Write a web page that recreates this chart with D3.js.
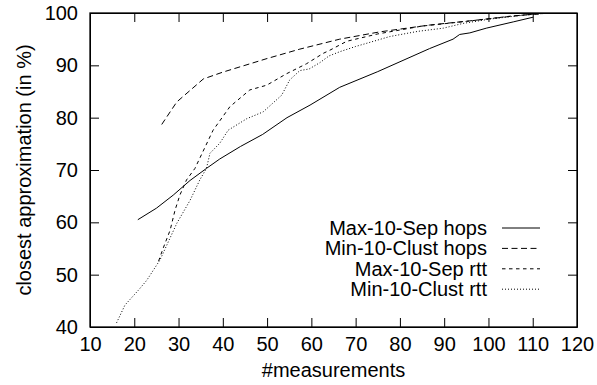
<!DOCTYPE html>
<html>
<head>
<meta charset="utf-8">
<script src="https://cdn.jsdelivr.net/npm/d3@7"></script>
<style>
  body { margin: 0; background: #fff; }
  svg { display: block; font-family: "Liberation Sans", Arial, Helvetica, sans-serif; }
  .axis path, .axis line { stroke: #000; }
  .axis text { font-size: 20px; fill: #000; font-family: "Liberation Sans", Arial, Helvetica, sans-serif; }
</style>
</head>
<body>
<figure id="chart" style="margin:0"></figure>
<script>
// series names, legend order
const seriesNames = ["Max-10-Sep hops", "Min-10-Clust hops", "Max-10-Sep rtt", "Min-10-Clust rtt"];

// Max-10-Sep hops (solid)
const sepHopsX = [20.8, 25, 28.8, 32.6, 36.3, 39.3, 44, 49, 54.5, 59.7, 66.4, 75, 86.7, 92, 93.5, 95.8, 99.5, 105.6, 110.1];
const sepHopsY = [60.5, 62.7, 65.2, 68.0, 70.3, 72.1, 74.5, 76.8, 80.0, 82.4, 85.8, 88.8, 93.2, 95.0, 95.9, 96.2, 97.1, 98.3, 99.2];

// Min-10-Clust hops (long dash)
const clustHopsX = [26.2, 29.6, 35.6, 40, 45, 50, 57.4, 66.4, 75.5, 86.7, 95.8, 107.7, 113.8];
const clustHopsY = [78.7, 83.0, 87.4, 88.7, 90.0, 91.3, 93.1, 95.0, 96.4, 97.7, 98.5, 99.6, 100];

// Max-10-Sep rtt (short dash)
const sepRttX = [25.5, 26.5, 28.1, 29.2, 30.3, 31.8, 33.7, 37.8, 41.6, 46.1, 49.9, 54.4, 56.3, 58.9, 62.7, 64.2, 68, 75, 85, 95, 105, 113.8];
const sepRttY = [52.6, 55.0, 58.5, 62.3, 65.2, 68.1, 70.3, 77.6, 82.1, 85.3, 86.2, 88.4, 89.2, 90.3, 92.3, 92.9, 94.6, 96.0, 97.5, 98.4, 99.4, 100];

// Min-10-Clust rtt (dotted)
const clustRttX = [16, 17.9, 20.9, 22.8, 25.8, 29.6, 32.6, 34.8, 36.3, 37.1, 39.3, 41.2, 45.4, 49.1, 53.3, 55.1, 57.4, 59.5, 61.9, 64, 66.4, 70, 77.7, 84.1, 89.8, 94.2, 100, 107, 113.8];
const clustRttY = [40.8, 44.2, 47.0, 48.9, 52.8, 59.8, 64.2, 68.1, 70.3, 73.2, 75.1, 77.6, 79.8, 81.1, 84.3, 87.2, 89.0, 89.3, 90.5, 91.8, 92.6, 93.6, 95.5, 96.5, 97.1, 98.0, 98.8, 99.5, 100];

const xTicks = [10, 20, 30, 40, 50, 60, 70, 80, 90, 100, 110, 120];
const yTicks = [40, 50, 60, 70, 80, 90, 100];

const width = 597, height = 385;
const margin = { top: 13, right: 20, bottom: 58, left: 90 };
const innerW = width - margin.left - margin.right;
const innerH = height - margin.top - margin.bottom;

const svg = d3.select("figure#chart")
  .append("svg")
  .attr("width", width)
  .attr("height", height);

const g = svg.append("g")
  .attr("transform", "translate(" + margin.left + "," + margin.top + ")");

const x = d3.scaleLinear().domain([10, 120]).range([0, innerW]);
const y = d3.scaleLinear().domain([40, 100]).range([innerH, 0]);

// axes, ticks point inwards (gnuplot style)
g.append("g")
  .attr("class", "axis")
  .attr("transform", "translate(0," + innerH + ")")
  .call(d3.axisBottom(x).tickValues(xTicks).tickSizeInner(-9).tickSizeOuter(0).tickPadding(10));

g.append("g")
  .attr("class", "axis")
  .call(d3.axisLeft(y).tickValues(yTicks).tickSizeInner(-9).tickSizeOuter(0).tickPadding(12));

// mirrored ticks on top and right
g.append("g")
  .attr("class", "axis")
  .call(d3.axisTop(x).tickValues(xTicks).tickSizeInner(-9).tickSizeOuter(0).tickFormat(""));

g.append("g")
  .attr("class", "axis")
  .attr("transform", "translate(" + innerW + ",0)")
  .call(d3.axisRight(y).tickValues(yTicks).tickSizeInner(-9).tickSizeOuter(0).tickFormat(""));

// frame
g.append("rect")
  .attr("width", innerW)
  .attr("height", innerH)
  .attr("fill", "none")
  .attr("stroke", "#000")
  .attr("stroke-width", 1.3);

// axis labels
svg.append("text")
  .attr("x", margin.left + innerW / 2)
  .attr("y", 377)
  .attr("text-anchor", "middle")
  .style("font-size", "20px")
  .text("#measurements");

svg.append("text")
  .attr("transform", "translate(31," + (margin.top + innerH / 2) + ")rotate(-90)")
  .attr("text-anchor", "middle")
  .style("font-size", "20px")
  .text("closest approximation (in %)");

// lines
const dashes = ["none", "6,3.5", "3.5,3.5", "1,2"];
const series = [
  [sepHopsX, sepHopsY],
  [clustHopsX, clustHopsY],
  [sepRttX, sepRttY],
  [clustRttX, clustRttY]
];

g.append("clipPath").attr("id", "clip")
  .append("rect").attr("width", innerW).attr("height", innerH);

const line = d3.line()
  .x(d => x(d[0]))
  .y(d => y(d[1]));

series.forEach((s, i) => {
  const pts = s[0].map((v, j) => [v, s[1][j]]);
  g.append("path")
    .datum(pts)
    .attr("clip-path", "url(#clip)")
    .attr("fill", "none")
    .attr("stroke", "#000")
    .attr("stroke-width", 1)
    .attr("stroke-dasharray", dashes[i])
    .attr("d", line);
});

// legend
const legend = svg.append("g");
seriesNames.forEach((name, i) => {
  const ly = 228 + i * 20.4;
  legend.append("text")
    .attr("x", 487)
    .attr("y", ly)
    .attr("dy", "0.35em")
    .attr("text-anchor", "end")
    .style("font-size", "20px")
    .text(name);
  legend.append("line")
    .attr("x1", 502)
    .attr("x2", 540)
    .attr("y1", ly)
    .attr("y2", ly)
    .attr("stroke", "#000")
    .attr("stroke-width", 1)
    .attr("stroke-dasharray", dashes[i]);
});
</script>
</body>
</html>
